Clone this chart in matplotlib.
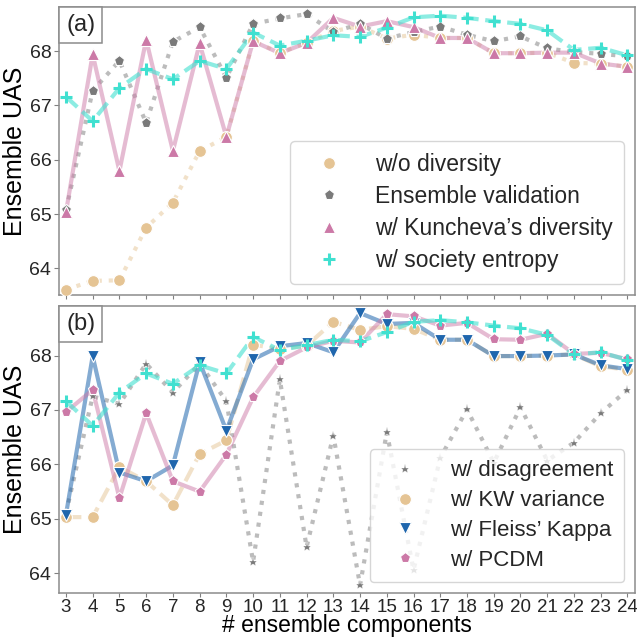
import matplotlib
matplotlib.use("Agg")
import matplotlib.pyplot as plt
from matplotlib.lines import Line2D
from matplotlib.offsetbox import AnchoredText

plt.rcParams['font.family'] = ['Liberation Sans', 'DejaVu Sans']
plt.rcParams['text.color'] = '#262626'
plt.rcParams['xtick.color'] = '#262626'
plt.rcParams['ytick.color'] = '#262626'

# ensemble sizes
n_comp = list(range(3, 25))

# (a)
wo_diversity = [63.61, 63.77, 63.78, 64.75, 65.21, 66.16, 66.42, 68.18, 67.97, 68.15, 68.37,
                68.45, 68.23, 68.30, 68.24, 68.24, 67.96, 67.96, 67.97, 67.78, 67.77, 67.71]
ens_validation = [65.07, 67.27, 67.82, 66.68, 68.17, 68.44, 67.51, 68.50, 68.60, 68.68, 68.35,
                  68.50, 68.23, 68.35, 68.45, 68.30, 68.18, 68.27, 68.05, 67.98, 67.95, 67.90]
kuncheva = [65.03, 67.94, 65.79, 68.21, 66.16, 68.14, 66.42, 68.18, 67.96, 68.15, 68.61,
            68.45, 68.55, 68.44, 68.24, 68.24, 67.96, 67.96, 67.97, 67.97, 67.77, 67.71]
society_entropy = [67.16, 66.71, 67.32, 67.67, 67.48, 67.82, 67.67, 68.34, 68.10, 68.19, 68.29,
                   68.26, 68.43, 68.62, 68.65, 68.61, 68.55, 68.50, 68.38, 68.02, 68.06, 67.92]

# (b)
disagreement = [65.10, 67.25, 67.11, 67.85, 67.32, 67.85, 67.16, 64.21, 67.56, 64.48, 66.53,
                63.78, 66.59, 64.06, 66.12, 67.01, 66.03, 67.05, 66.07, 66.40, 66.94, 67.37]
kw_variance = [65.03, 65.03, 65.95, 65.69, 65.25, 66.19, 66.44, 68.20, 68.12, 68.18, 68.62,
               68.47, 68.54, 68.49, 68.29, 68.29, 67.99, 67.99, 68.00, 68.02, 67.80, 67.74]
fleiss = [65.07, 67.99, 65.85, 65.69, 65.98, 67.88, 66.62, 67.93, 68.17, 68.23, 68.06,
          68.78, 68.58, 68.60, 68.29, 68.29, 67.99, 67.99, 68.00, 68.02, 67.82, 67.75]
pcdm = [66.96, 67.37, 65.38, 66.94, 65.69, 65.50, 66.18, 67.23, 67.90, 68.15, 68.27,
        68.24, 68.76, 68.72, 68.55, 68.60, 68.30, 68.29, 68.40, 68.03, 68.05, 67.93]

TAN = '#e5c494'
GREY = '#7a7a7a'
PINK = '#cc79a7'
TURQ = '#40e0d0'
BLUE = '#1f66ad'


def draw(ax, y, color, ls, marker, ms, label, line_alpha=0.5, mew=0.8, mec='white'):
    ax.plot(n_comp, y, color=color, ls=ls, lw=3, alpha=line_alpha, zorder=2)
    ax.plot(n_comp, y, color=color, ls='none', marker=marker, ms=ms,
            mec=mec if marker != '+' else color, mew=mew, zorder=3)
    return Line2D([], [], color=color, ls='none', marker=marker, ms=ms,
                  mec=mec if marker != '+' else color, mew=mew, label=label)


fig = plt.figure(figsize=(6.37, 6.37), dpi=100)
ax1 = fig.add_axes([0.0926, 0.5369, 0.905, 0.4521])
ax2 = fig.add_axes([0.0926, 0.0686, 0.905, 0.451])

h = []
h.append(draw(ax1, wo_diversity, TAN, ':', 'o', 8.5, 'w/o diversity'))
h.append(draw(ax1, ens_validation, GREY, ':', 'p', 8, 'Ensemble validation'))
h.append(draw(ax1, kuncheva, PINK, '-', '^', 8, 'w/ Kuncheva\u2019s diversity'))
h.append(draw(ax1, society_entropy, TURQ, '--', '+', 8.5, 'w/ society entropy',
              line_alpha=0.6, mew=2.2))
ax1.legend(handles=h, loc='lower right', fontsize=16.5, handlelength=2.4,
           handletextpad=0.8, labelspacing=0.4, borderpad=0.5)

h2 = []
h2.append(draw(ax2, disagreement, GREY, ':', '*', 6.5, 'w/ disagreement', mew=0.3))
h2.append(draw(ax2, kw_variance, TAN, '--', 'o', 8.5, 'w/ KW variance'))
h2.append(draw(ax2, fleiss, BLUE, '-', 'v', 8, 'w/ Fleiss\u2019 Kappa', line_alpha=0.55))
h2.append(draw(ax2, pcdm, PINK, '-', 'p', 8, 'w/ PCDM'))
draw(ax2, society_entropy, TURQ, '--', '+', 8.5, 'w/ society entropy', line_alpha=0.6, mew=2.2)
ax2.legend(handles=h2, loc='lower right', fontsize=16, handlelength=2.2,
           handletextpad=0.9, labelspacing=0.4, borderpad=0.5)

for ax, lab, ylim in [(ax1, '(a)', (63.51, 68.81)), (ax2, '(b)', (63.63, 68.91))]:
    ax.set_xlim(2.74, 24.3)
    ax.set_ylim(*ylim)
    ax.set_xticks(n_comp)
    ax.set_yticks([64, 65, 66, 67, 68])
    ax.set_ylabel('Ensemble UAS', fontsize=18)
    ax.yaxis.set_label_coords(-0.056, 0.5)
    ax.tick_params(axis='y', labelsize=14, length=3.5, color='#808080', pad=2)
    ax.tick_params(axis='x', labelsize=13.5, length=3, color='#808080', pad=1)
    for s in ax.spines.values():
        s.set_color('#8c8c8c')
        s.set_linewidth(1.1)
    at = AnchoredText(lab, loc='upper left', borderpad=0, pad=0.3,
                      prop=dict(size=17))
    at.patch.set_boxstyle('square,pad=0')
    at.patch.set_edgecolor('#8c8c8c')
    at.patch.set_linewidth(1.1)
    ax.add_artist(at)

ax1.tick_params(axis='x', labelbottom=False)
ax2.set_xlabel('# ensemble components', fontsize=16.5, labelpad=-1)

fig.savefig('out.png', dpi=100)
